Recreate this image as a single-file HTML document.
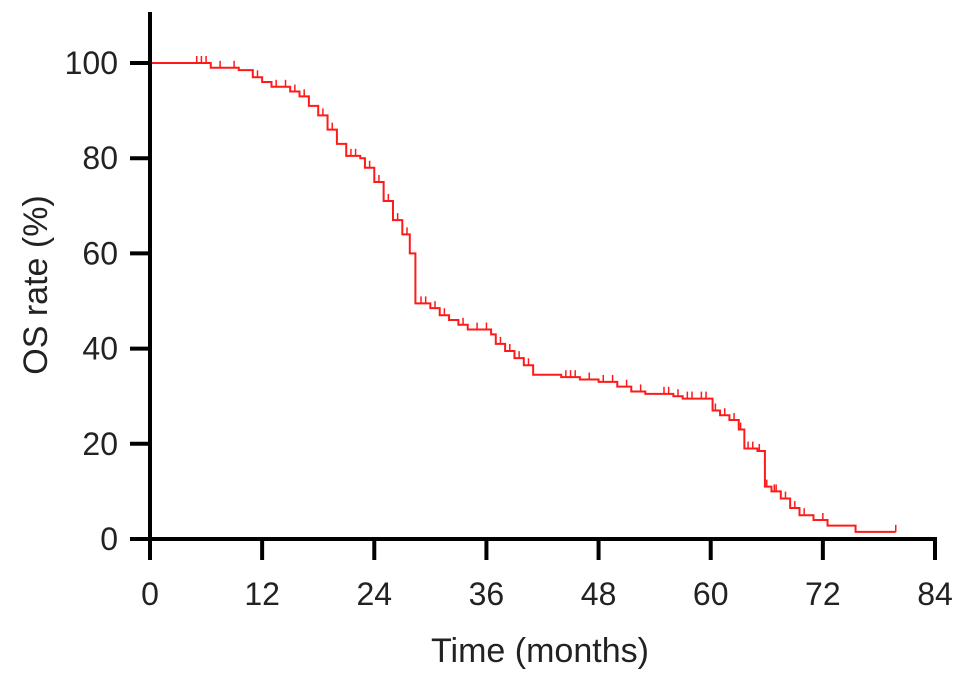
<!DOCTYPE html>
<html><head><meta charset="utf-8"><style>
html,body{margin:0;padding:0;background:#fff;}
svg{display:block;font-family:"Liberation Sans",Arial,sans-serif;}
</style></head><body>
<svg id="chart" width="969" height="680"></svg>
<script>
const stepTimes=[0,6.5,9.5,11,12,13,15,16,17,18,19,20,21,22.5,23,24,25,26,27,27.8,28.4,30,31,32,33,34,36.5,37,38,39,40,41,44,46,48,50,51.5,53,56,57,60.2,61,62,63,63.6,65,65.8,66.5,67.5,68.5,69.5,71,72.5,75.5];
const survival=[100,99,98.5,97,96,95,94,93,91,89,86,83,80.5,80,78,75,71,67,64,60,49.5,48.5,47,46,45,44,43,41,39.5,38,36.5,34.5,34,33.5,33,32,31,30.5,30,29.5,27,26,25,23,19,18.5,11,10,8.5,6.5,5,4,2.8,1.5];
const endTime=79.8;
const censorTimes=[5,5.5,6,7.5,9,11.5,13.5,14.5,15.5,16.5,18.5,19.5,21.5,22,23.5,24.5,25.5,26.5,27.5,29,29.5,30.5,31.5,33.5,35,36,37.5,38.5,39.5,40.5,44.5,45,45.5,47,48.5,49.5,51,52.5,55,55.5,56.5,57.5,58,59,59.5,60.5,61.5,62.5,63.2,64,64.5,65.2,66,66.8,67,68,69,70,72,79.8];
const xTicks=[0,12,24,36,48,60,72,84];
const yTicks=[0,20,40,60,80,100];
const svg=document.getElementById('chart');
const NS='http://www.w3.org/2000/svg';
const X=t=>150+t*(785/84);
const Y=s=>539-s*4.76;
function mk(tag,attrs,parent){const e=document.createElementNS(NS,tag);for(const k in attrs)e.setAttribute(k,attrs[k]);(parent||svg).appendChild(e);return e;}
function survAt(t){let s=100;for(let i=0;i<stepTimes.length;i++){if(stepTimes[i]<=t)s=survival[i];}return s;}
let d='M'+X(0)+','+Y(survival[0]);
for(let i=1;i<stepTimes.length;i++){d+=' H'+X(stepTimes[i])+' V'+Y(survival[i]);}
d+=' H'+X(endTime);
const curve=mk('path',{d:d,fill:'none',stroke:'#ff1a1a','stroke-width':2});


censorTimes.forEach(t=>{
  const s=survAt(t);
  const c=mk('line',{x1:X(t),x2:X(t),y1:Y(s),y2:Y(s)-7,stroke:'#ff1a1a','stroke-width':1.5});
  
  
});
const ax=mk('line',{x1:130,x2:937,y1:539,y2:539,stroke:'#000','stroke-width':4});


const ay=mk('line',{x1:150,x2:150,y1:12,y2:560,stroke:'#000','stroke-width':4});


xTicks.forEach(v=>{
  const tk=mk('line',{x1:X(v),x2:X(v),y1:539,y2:560,stroke:'#000','stroke-width':4});
  
  
  const tx=mk('text',{x:X(v),y:605,'text-anchor':'middle','font-size':32,fill:'#222'});
  tx.textContent=v;
  
  
});
yTicks.forEach(v=>{
  const tk=mk('line',{x1:130,x2:150,y1:Y(v),y2:Y(v),stroke:'#000','stroke-width':4});
  
  
  const tx=mk('text',{x:118,y:Y(v)+11,'text-anchor':'end','font-size':32,fill:'#222'});
  tx.textContent=v;
  
  
});
const xt=mk('text',{x:540,y:662,'text-anchor':'middle','font-size':34,fill:'#222'});
xt.textContent='Time (months)';


const yt=mk('text',{x:0,y:0,'text-anchor':'middle','font-size':34,fill:'#222',transform:'translate(47,285) rotate(-90)'});
yt.textContent='OS rate (%)';


</script>
</body></html>
